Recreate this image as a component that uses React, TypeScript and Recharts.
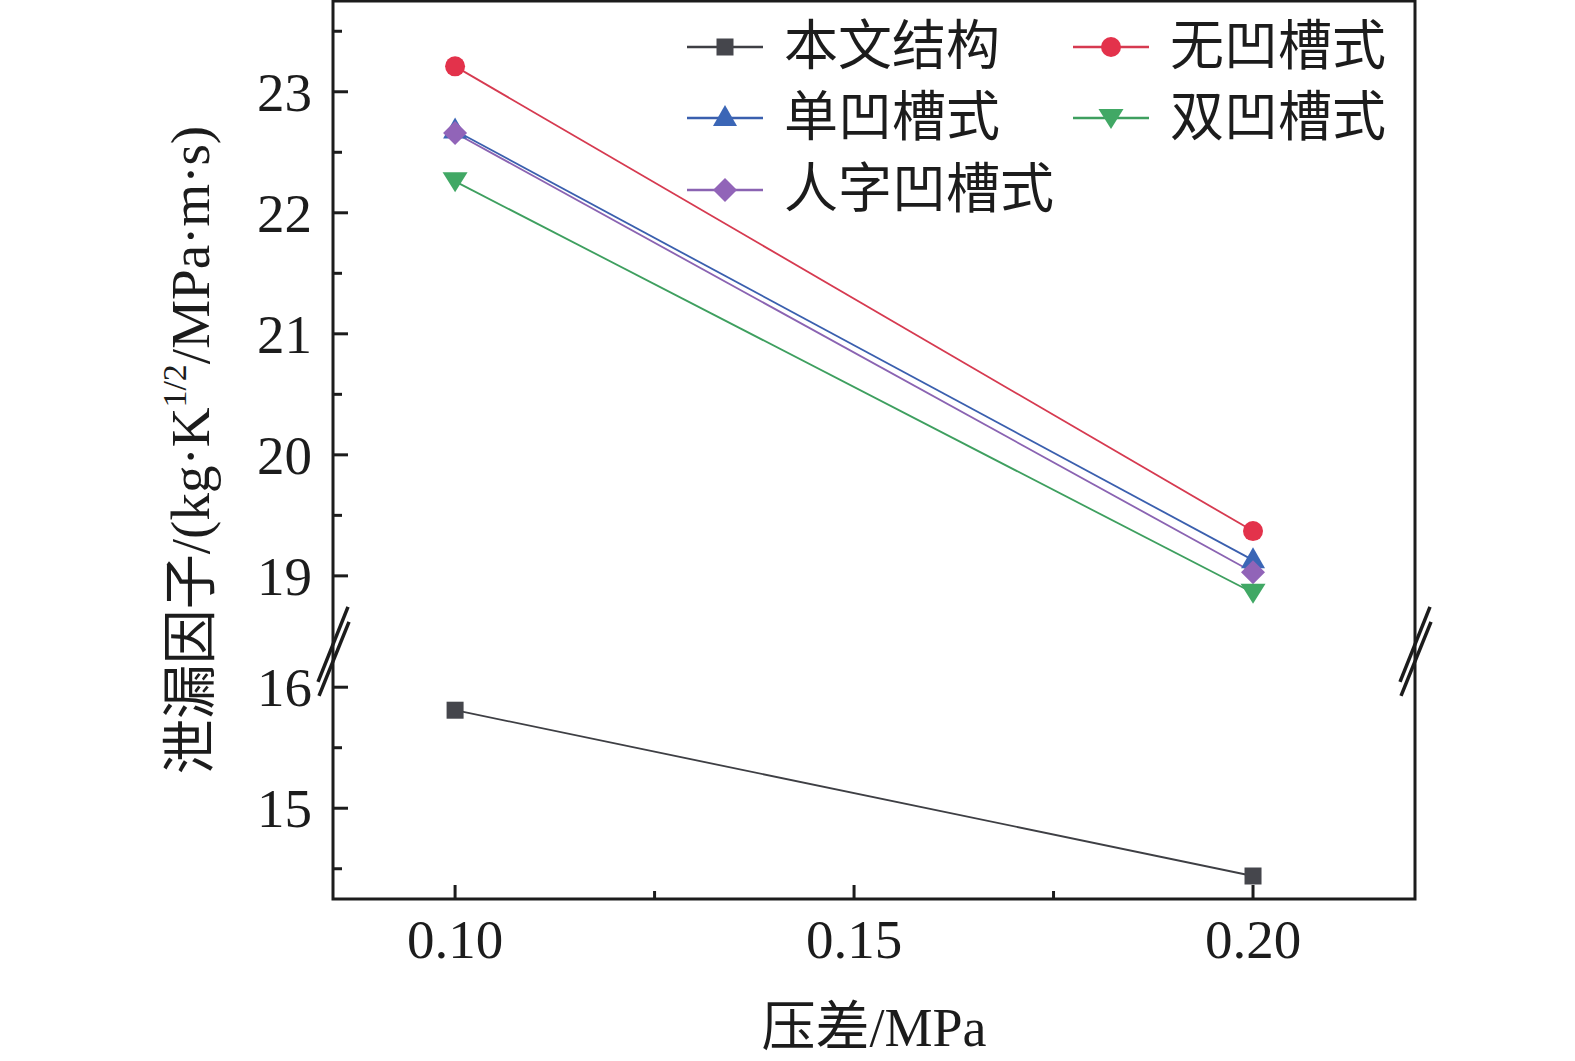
import React from 'react';
import { LineChart, Line, XAxis, YAxis, ReferenceArea, ReferenceDot, Legend, Label } from 'recharts';

// ---------- data ----------
const pressureDiff = [0.1, 0.2];
const benWenJieGou = [15.81, 14.44]; // 本文结构
const wuAoCao = [23.21, 19.37]; // 无凹槽式
const danAoCao = [22.68, 19.13]; // 单凹槽式
const renZiAoCao = [22.66, 19.03]; // 人字凹槽式
const shuangAoCao = [22.26, 18.86]; // 双凹槽式

const seriesNames = ['本文结构', '无凹槽式', '单凹槽式', '人字凹槽式', '双凹槽式'];
const xTicks = [0.1, 0.125, 0.15, 0.175, 0.2];
const xMajorTicks = [0.1, 0.15, 0.2];
const yUpperTicks = [19, 19.5, 20, 20.5, 21, 21.5, 22, 22.5, 23, 23.5];
const yLowerTicks = [14.5, 15, 15.5, 16];

// broken axis: lower segment shifted up by BREAK_OFFSET
const BREAK_OFFSET = 2.08;
const BREAK_LEVEL = 18.5;
const toAxis = (v: number) => (v < BREAK_LEVEL - 1 ? v + BREAK_OFFSET : v);
const fromAxis = (t: number) => (t < BREAK_LEVEL ? t - BREAK_OFFSET : t);
const Y_DOMAIN: [number, number] = [16.33, 23.75];
const X_DOMAIN: [number, number] = [0.0847, 0.2203];
const BREAK_MARK_Y = 18.38;

const keys = ['s0', 's1', 's2', 's3', 's4'];
const seriesValues = [benWenJieGou, wuAoCao, danAoCao, renZiAoCao, shuangAoCao];
const tableData = pressureDiff.map((x, i) => {
  const row: Record<string, number> = { x };
  seriesValues.forEach((arr, k) => {
    row[keys[k]] = toAxis(arr[i]);
  });
  return row;
});

// ---------- styles ----------
const FONT = "'Liberation Serif', 'Times New Roman', 'Noto Sans CJK SC', serif";
const INK = '#1c1c1c';
const seriesColors = ['#45464c', '#e3324b', '#3b66b6', '#9164b8', '#41a865'];
const lineColors = ['#3e3f44', '#d63a50', '#3a5fae', '#8a63b2', '#3e9f5f'];
const shapes = ['square', 'circle', 'triangleUp', 'diamond', 'triangleDown'];

const Y_TICK_MARGIN = 21;
const X_TICK_MARGIN = 20;

function Marker({ shape, cx, cy, color }: { shape: string; cx: number; cy: number; color: string }) {
  if (shape === 'square') return <rect x={cx - 8.5} y={cy - 8.5} width={17} height={17} fill={color} />;
  if (shape === 'circle') return <circle cx={cx} cy={cy} r={10} fill={color} />;
  if (shape === 'triangleUp')
    return <polygon points={`${cx},${cy - 13} ${cx + 12},${cy + 8} ${cx - 12},${cy + 8}`} fill={color} />;
  if (shape === 'triangleDown')
    return <polygon points={`${cx - 12.5},${cy - 9} ${cx + 12.5},${cy - 9} ${cx},${cy + 11}`} fill={color} />;
  return <polygon points={`${cx},${cy - 12} ${cx + 12},${cy} ${cx},${cy + 12} ${cx - 12},${cy}`} fill={color} />;
}

const YTick = (props: any) => {
  const { x, y, payload } = props;
  const real = fromAxis(payload.value);
  const isMajor = Math.abs(real - Math.round(real)) < 1e-6;
  const axisX = x + Y_TICK_MARGIN;
  return (
    <g>
      <line x1={axisX} x2={axisX + (isMajor ? 15 : 9)} y1={y} y2={y} stroke={INK} strokeWidth={3} />
      {isMajor && (
        <text x={x} y={y} dy="0.35em" textAnchor="end" fontSize={55} fontFamily={FONT} fill={INK}>
          {Math.round(real)}
        </text>
      )}
    </g>
  );
};

const XTick = (props: any) => {
  const { x, y, payload } = props;
  const axisY = y - X_TICK_MARGIN;
  const isMajor = xMajorTicks.some((t) => Math.abs(t - payload.value) < 1e-9);
  return (
    <g>
      <line x1={x} x2={x} y1={axisY} y2={axisY - (isMajor ? 14 : 8)} stroke={INK} strokeWidth={3} />
      {isMajor && (
        <text x={x} y={axisY + 59} textAnchor="middle" fontSize={55} fontFamily={FONT} fill={INK}>
          {payload.value.toFixed(2)}
        </text>
      )}
    </g>
  );
};

const YTitle = (props: any) => {
  const vb = props.viewBox || { x: 233, y: 1, width: 100, height: 898 };
  const cx = vb.x - 43;
  const cy = vb.y + vb.height / 2;
  return (
    <text
      x={cx}
      y={cy}
      transform={`rotate(-90 ${cx} ${cy})`}
      textAnchor="middle"
      dominantBaseline="central"
      fontSize={55}
      fontFamily={FONT}
      fill={INK}
    >
      <tspan>泄漏因子/(kg·K</tspan>
      <tspan fontSize={34} dy={-16}>1/2</tspan>
      <tspan dy={16}>/MPa·m·s)</tspan>
    </text>
  );
};

const XTitle = (props: any) => {
  const vb = props.viewBox || { x: 333, y: 899, width: 1082, height: 120 };
  return (
    <text x={vb.x + vb.width / 2} y={vb.y + 147} textAnchor="middle" fontSize={54} fontFamily={FONT} fill={INK}>
      压差/MPa
    </text>
  );
};

const BreakMark = (props: any) => {
  const { cx, cy } = props;
  return (
    <g>
      <line x1={cx + 15} y1={cy - 44} x2={cx - 15} y2={cy + 31} stroke={INK} strokeWidth={3.5} />
      <line x1={cx + 16} y1={cy - 29} x2={cx - 14} y2={cy + 45} stroke={INK} strokeWidth={3.5} />
    </g>
  );
};

const legendSlots = [
  { col: 0, row: 0 },
  { col: 1, row: 0 },
  { col: 0, row: 1 },
  { col: 0, row: 2 },
  { col: 1, row: 1 },
];
const legendColX = [687, 1073];
const legendRowY = [47, 118, 190];

const renderLegend = () => (
  <div style={{ position: 'relative', width: 1575, height: 0 }}>
    {seriesNames.map((name, i) => {
      const slot = legendSlots[i];
      return (
        <div
          key={name}
          style={{
            position: 'absolute',
            left: legendColX[slot.col],
            top: legendRowY[slot.row] - 35,
            height: 70,
            display: 'flex',
            alignItems: 'center',
            whiteSpace: 'nowrap',
          }}
        >
          <svg width={76} height={30} style={{ display: 'block' }}>
            <line x1={0} x2={76} y1={15} y2={15} stroke={lineColors[i]} strokeWidth={2.7} />
            <Marker shape={shapes[i]} cx={38} cy={15} color={seriesColors[i]} />
          </svg>
          <span
            style={{
              marginLeft: 21,
              fontSize: 54,
              lineHeight: '70px',
              fontFamily: FONT,
              color: INK,
            }}
          >
            {name}
          </span>
        </div>
      );
    })}
  </div>
);

export default function App() {
  return (
    <div style={{ position: 'absolute', left: 0, top: 0, width: 1575, height: 1061, background: '#fff' }}>
      <LineChart
        width={1575}
        height={1061}
        data={tableData}
        margin={{ top: 1, right: 160, bottom: 42, left: 233 }}
      >
        <XAxis
          dataKey="x"
          type="number"
          domain={X_DOMAIN}
          allowDataOverflow
          ticks={xTicks}
          tick={<XTick />}
          tickSize={0}
          tickMargin={X_TICK_MARGIN}
          tickLine={false}
          axisLine={false}
          height={120}
          interval={0}
        >
          <Label content={<XTitle />} />
        </XAxis>
        <YAxis
          type="number"
          domain={Y_DOMAIN}
          allowDataOverflow
          ticks={[...yLowerTicks.map(toAxis), ...yUpperTicks]}
          tick={<YTick />}
          tickSize={0}
          tickMargin={Y_TICK_MARGIN}
          tickLine={false}
          axisLine={false}
          width={100}
          interval={0}
        >
          <Label content={<YTitle />} />
        </YAxis>
        <ReferenceArea
          x1={X_DOMAIN[0]}
          x2={X_DOMAIN[1]}
          y1={Y_DOMAIN[0]}
          y2={Y_DOMAIN[1]}
          fill="none"
          fillOpacity={0}
          stroke={INK}
          strokeWidth={3}
          ifOverflow="visible"
        />
        <ReferenceDot x={X_DOMAIN[0]} y={BREAK_MARK_Y} r={0} ifOverflow="visible" shape={<BreakMark />} />
        <ReferenceDot x={X_DOMAIN[1]} y={BREAK_MARK_Y} r={0} ifOverflow="visible" shape={<BreakMark />} />
        {keys.map((k, i) => (
          <Line
            key={k}
            dataKey={k}
            name={seriesNames[i]}
            type="linear"
            stroke={lineColors[i]}
            strokeWidth={1.8}
            isAnimationActive={false}
            dot={(p: any) => (
              <Marker key={`${k}-${p.index}`} shape={shapes[i]} cx={p.cx} cy={p.cy} color={seriesColors[i]} />
            )}
            activeDot={false}
          />
        ))}
        <Legend
          content={renderLegend}
          layout="horizontal"
          verticalAlign="middle"
          align="center"
          wrapperStyle={{ left: 0, top: 0, width: 1575, height: 0 }}
        />
      </LineChart>
    </div>
  );
}
